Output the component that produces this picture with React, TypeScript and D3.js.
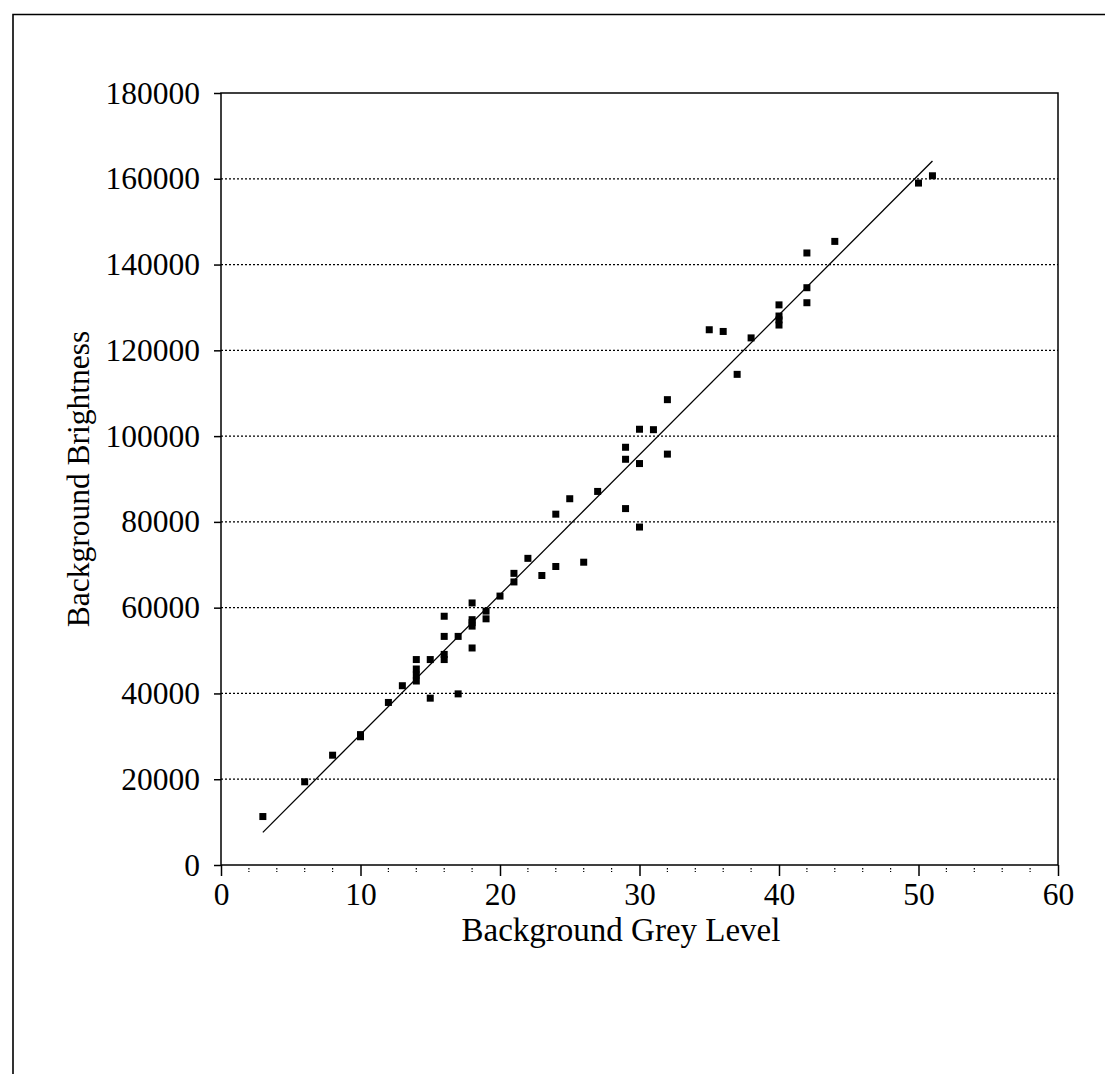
import React, { useRef, useEffect } from 'react';
import * as d3 from 'd3';

// grey level (x) and brightness (y)
const greyLevel = [
  3, 6, 8, 10, 10, 12, 13, 14, 14, 14, 14, 15, 15, 16, 16, 16, 16, 17, 17,
  18, 18, 18, 18, 18, 19, 19, 20, 21, 21, 22, 23, 24, 24, 25, 26, 27, 29, 29,
  29, 30, 30, 30, 31, 32, 32, 35, 36, 37, 38, 40, 40, 40, 40, 42, 42, 42, 44,
  50, 51,
];
const brightness = [
  11300, 19400, 25600, 30400, 29900, 37900, 41800, 47900, 45700, 44300, 42900,
  47900, 38900, 58000, 53300, 49100, 47900, 53300, 39900, 61100, 57200, 56500,
  55700, 50600, 59200, 57400, 62700, 68000, 66000, 71500, 67500, 69600, 81800,
  85400, 70600, 87100, 97400, 94600, 83100, 101600, 93600, 78800, 101500,
  108500, 95800, 124800, 124400, 114400, 122900, 130600, 128000, 127100,
  125900, 142700, 134600, 131100, 145400, 159000, 160700,
];

const xTicks = [0, 10, 20, 30, 40, 50, 60];
const xMinorTicks = d3.range(0, 61, 2);
const yTicks = [0, 20000, 40000, 60000, 80000, 100000, 120000, 140000, 160000, 180000];

const xTitle = 'Background Grey Level';
const yTitle = 'Background Brightness';

function App() {
  const chartRef = useRef(null);

  useEffect(() => {
    const svg = d3.select(chartRef.current);
    svg.selectAll('*').remove();

    const plot = { left: 221, right: 1058, top: 93, bottom: 865 };
    const font = '"Liberation Serif", "Times New Roman", serif';

    const xScale = d3.scaleLinear().domain([0, 60]).range([plot.left, plot.right]);
    const yScale = d3.scaleLinear().domain([0, 180000]).range([plot.bottom, plot.top]);

    const data = greyLevel.map((g, i) => ({ x: g, y: brightness[i] }));

    // outer frame (only top and left edges show in the scan)
    svg
      .append('path')
      .attr('d', 'M13,1074 L13,14.5 L1105,14.5')
      .attr('fill', 'none')
      .attr('stroke', '#000')
      .attr('stroke-width', 1.6);

    // dotted gridlines
    svg
      .append('g')
      .selectAll('line')
      .data(yTicks.filter((t) => t > 0 && t < 180000))
      .enter()
      .append('line')
      .attr('x1', plot.left)
      .attr('x2', plot.right)
      .attr('y1', (d) => yScale(d))
      .attr('y2', (d) => yScale(d))
      .attr('stroke', '#000')
      .attr('stroke-width', 1.2)
      .attr('stroke-dasharray', '2,2');

    // plot border
    svg
      .append('rect')
      .attr('x', plot.left)
      .attr('y', plot.top)
      .attr('width', plot.right - plot.left)
      .attr('height', plot.bottom - plot.top)
      .attr('fill', 'none')
      .attr('stroke', '#000')
      .attr('stroke-width', 1.5);

    // minor x ticks
    svg
      .append('g')
      .selectAll('line')
      .data(xMinorTicks.filter((t) => t % 10 !== 0))
      .enter()
      .append('line')
      .attr('x1', (d) => xScale(d))
      .attr('x2', (d) => xScale(d))
      .attr('y1', plot.bottom + 3)
      .attr('y2', plot.bottom + 7)
      .attr('stroke', '#000')
      .attr('stroke-width', 1.2)
      .attr('stroke-dasharray', '1.5,1.5');

    // x axis
    const xAxis = d3
      .axisBottom(xScale)
      .tickValues(xTicks)
      .tickSize(11)
      .tickPadding(7)
      .tickFormat(d3.format('d'));
    const gx = svg
      .append('g')
      .attr('transform', `translate(0,${plot.bottom})`)
      .call(xAxis);
    gx.select('.domain').remove();
    gx.selectAll('line').attr('stroke-width', 1.5);
    gx.selectAll('text')
      .attr('font-family', font)
      .attr('font-size', 31.5)
      .attr('fill', '#000');

    // y axis
    const yAxis = d3
      .axisLeft(yScale)
      .tickValues(yTicks)
      .tickSize(7)
      .tickPadding(14)
      .tickFormat(d3.format('d'));
    const gy = svg
      .append('g')
      .attr('transform', `translate(${plot.left},0)`)
      .call(yAxis);
    gy.select('.domain').remove();
    gy.selectAll('line').attr('stroke-width', 1.5);
    gy.selectAll('text')
      .attr('font-family', font)
      .attr('font-size', 31.5)
      .attr('fill', '#000');

    // linear trendline, least squares over the points
    const mx = d3.mean(greyLevel);
    const my = d3.mean(brightness);
    const sxy = d3.sum(data, (d) => (d.x - mx) * (d.y - my));
    const sxx = d3.sum(data, (d) => (d.x - mx) * (d.x - mx));
    const slope = sxy / sxx;
    const intercept = my - slope * mx;
    const [x0, x1] = d3.extent(greyLevel);
    const line = d3
      .line()
      .x((d) => xScale(d[0]))
      .y((d) => yScale(d[1]));
    svg
      .append('path')
      .attr('d', line([[x0, slope * x0 + intercept], [x1, slope * x1 + intercept]]))
      .attr('fill', 'none')
      .attr('stroke', '#000')
      .attr('stroke-width', 1.3);

    // square markers
    svg
      .append('g')
      .selectAll('rect')
      .data(data)
      .enter()
      .append('rect')
      .attr('x', (d) => xScale(d.x) - 3.5)
      .attr('y', (d) => yScale(d.y) - 3.5)
      .attr('width', 7)
      .attr('height', 7)
      .attr('fill', '#000');

    // axis titles
    svg
      .append('text')
      .attr('x', 621)
      .attr('y', 941)
      .attr('text-anchor', 'middle')
      .attr('font-family', font)
      .attr('font-size', 33)
      .text(xTitle);

    svg
      .append('text')
      .attr('transform', `translate(89,${(plot.top + plot.bottom) / 2}) rotate(-90)`)
      .attr('text-anchor', 'middle')
      .attr('font-family', font)
      .attr('font-size', 31.5)
      .text(yTitle);
  }, []);

  return (
    <svg
      ref={chartRef}
      width={1105}
      height={1074}
      style={{ position: 'absolute', left: 0, top: 0, background: '#fff' }}
    ></svg>
  );
}

export default App;
